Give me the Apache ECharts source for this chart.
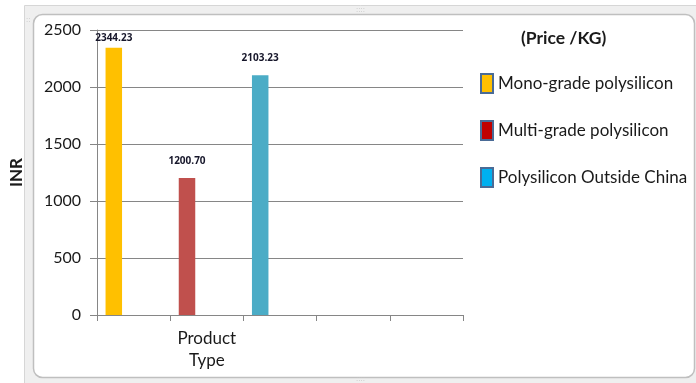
<!DOCTYPE html>
<html>
<head>
<meta charset="utf-8">
<script src="https://cdn.jsdelivr.net/npm/echarts@6/dist/echarts.min.js"></script>
<style>
  html, body { margin: 0; padding: 0; background: #ffffff; }
  #chart { width: 696px; height: 383px; }
</style>
</head>
<body>
<div id="chart"></div>
<script>
// Category slots along the x axis
const categories = ['', 'Product\nType', '', '', ''];

// Polysilicon prices (INR per KG)
const seriesNames = ['Mono-grade polysilicon', 'Multi-grade polysilicon', 'Polysilicon Outside China'];
const monoGrade = [2344.23, null, null, null, null];
const multiGrade = [null, 1200.70, null, null, null];
const outsideChina = [null, null, 2103.23, null, null];

// Value axis ticks
const yMin = 0;
const yMax = 2500;
const yStep = 500;

const barColors = ['#FFC000', '#C0504D', '#4BACC6'];
const legendColors = ['#FFC000', '#C00000', '#00B0F0'];

const chart = echarts.init(document.getElementById('chart'), null, { renderer: 'canvas' });

const fontFamily = 'Lato, "Open Sans", sans-serif';

function barSeries(name, data, color) {
  return {
    name: name,
    type: 'bar',
    stack: 'price',
    barWidth: 16.5,
    barGap: '20%',
    itemStyle: { color: color },
    label: {
      show: true,
      position: 'top',
      distance: 12,
      fontFamily: '"Open Sans", sans-serif',
      fontSize: 10,
      fontWeight: 'bold',
      color: '#16162a',
      formatter: (p) => p.value == null ? '' : Number(p.value).toFixed(2)
    },
    data: data.map((v) => {
      if (v == null) return null;
      // keep the tallest label inside the plot frame
      if (v > 2300) return { value: v, label: { distance: 5 } };
      return v;
    }),
    z: 3
  };
}

// Empty slots so the bars sit to the left within each category
function spacer(id) {
  return { name: id, type: 'bar', stack: id, barWidth: 16.5, barGap: '20%', data: [null, null, null, null, null], silent: true };
}

const option = {
  animation: false,
  backgroundColor: '#ffffff',
  textStyle: { fontFamily: fontFamily },
  graphic: [
    {
      type: 'rect', silent: true, z: -10,
      shape: { x: 24.5, y: 5.5, width: 680, height: 385 },
      style: { fill: '#efefef', stroke: '#d6d6d6', lineWidth: 1 }
    },
    {
      type: 'rect', silent: true, z: -9,
      shape: { x: 33.5, y: 14.5, width: 661, height: 363, r: 9 },
      style: { fill: '#ffffff', stroke: '#bfbfbf', lineWidth: 1.5 }
    },
    {
      type: 'text', silent: true, z: -8,
      style: { x: 356, y: 6, text: '::::', fill: '#c4c4c4', font: '8px sans-serif' }
    },
    {
      type: 'text', silent: true, z: -8,
      style: { x: 356, y: 375, text: '::::', fill: '#c4c4c4', font: '8px sans-serif' }
    },
    {
      type: 'text', silent: true, z: -8,
      style: { x: 26, y: 16, text: '::', fill: '#c4c4c4', font: '8px sans-serif' }
    }
  ],
  title: {
    text: '(Price /KG)',
    left: 521,
    top: 29,
    padding: 0,
    textStyle: { fontFamily: fontFamily, fontSize: 17.5, fontWeight: 'bold', color: '#1a1a1a' }
  },
  legend: {
    orient: 'vertical',
    left: 480,
    top: 73,
    padding: 0,
    itemWidth: 12,
    itemHeight: 19,
    itemGap: 26,
    icon: 'rect',
    textStyle: { fontFamily: fontFamily, fontSize: 17, color: '#1a1a1a' },
    data: seriesNames.map((n, i) => ({
      name: n,
      icon: 'rect',
      itemStyle: { color: legendColors[i], borderColor: '#4a6b96', borderWidth: 2 }
    }))
  },
  grid: {
    left: 93,
    right: 233,
    top: 30,
    bottom: 68,
    containLabel: false
  },
  xAxis: {
    type: 'category',
    data: categories,
    boundaryGap: true,
    axisLine: { show: true, lineStyle: { color: '#868686', width: 1 } },
    axisTick: { show: true, length: 6, lineStyle: { color: '#868686' } },
    axisLabel: {
      interval: 0,
      margin: 13,
      fontFamily: fontFamily,
      fontSize: 17,
      lineHeight: 22,
      color: '#1a1a1a'
    },
    splitLine: { show: false }
  },
  yAxis: {
    type: 'value',
    min: yMin,
    max: yMax,
    interval: yStep,
    name: 'INR',
    nameLocation: 'middle',
    nameRotate: 90,
    nameGap: 72,
    nameTextStyle: { fontFamily: fontFamily, fontSize: 17, fontWeight: 'bold', color: '#1a1a1a' },
    axisLine: { show: true, lineStyle: { color: '#868686', width: 1 } },
    axisTick: { show: true, length: 7, lineStyle: { color: '#868686' } },
    axisLabel: {
      margin: 16,
      fontFamily: fontFamily,
      fontSize: 16,
      color: '#1a1a1a',
      formatter: (v) => String(v)
    },
    splitLine: { show: true, lineStyle: { color: '#868686', width: 1 } }
  },
  series: [
    barSeries(seriesNames[0], monoGrade, barColors[0]),
    barSeries(seriesNames[1], multiGrade, barColors[1]),
    barSeries(seriesNames[2], outsideChina, barColors[2]),
    spacer('slotB'),
    spacer('slotC')
  ]
};

chart.setOption(option);
</script>
</body>
</html>
